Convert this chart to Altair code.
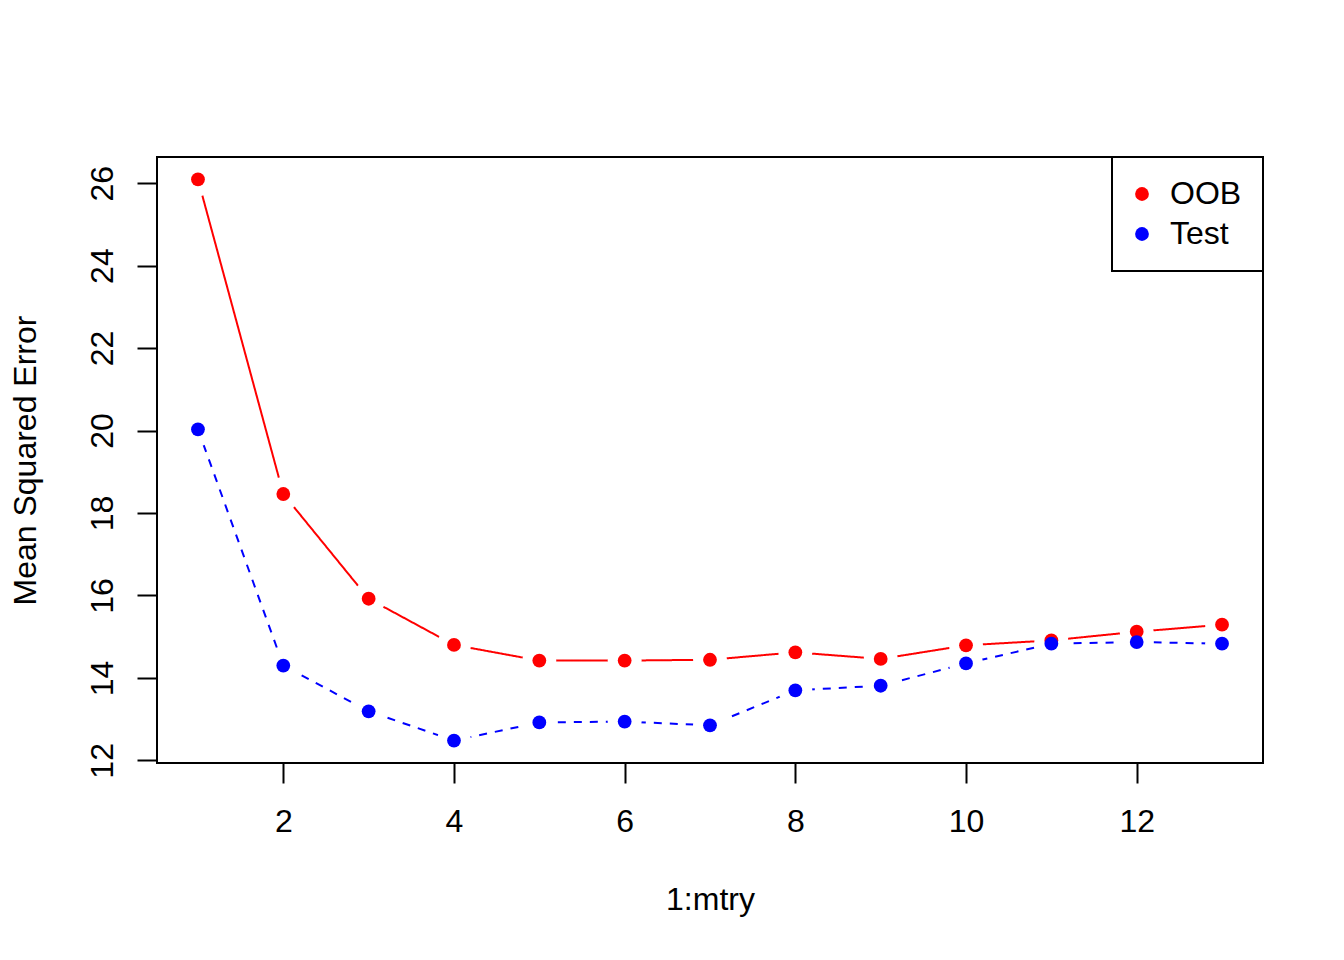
import altair as alt
import pandas as pd

mtry = list(range(1, 14))
oob = [26.09, 18.46, 15.92, 14.80, 14.42, 14.42, 14.44, 14.62, 14.46, 14.79, 14.91, 15.12, 15.29]
test = [20.03, 14.30, 13.19, 12.48, 12.92, 12.94, 12.85, 13.70, 13.81, 14.35, 14.83, 14.87, 14.83]
series = ["OOB", "Test"]
colors = ["#ff0000", "#0000ff"]
x_ticks = [2, 4, 6, 8, 10, 12]
y_ticks = [12, 14, 16, 18, 20, 22, 24, 26]

df = pd.DataFrame({
    "mtry": mtry * 2,
    "mse": oob + test,
    "series": ["OOB"] * len(mtry) + ["Test"] * len(mtry),
})

FONT = "Liberation Sans"

x = alt.X("mtry:Q",
          scale=alt.Scale(domain=[0.52, 13.48], nice=False, zero=False),
          axis=alt.Axis(values=x_ticks, title="1:mtry", grid=False, domain=False,
                        tickSize=20, tickWidth=2, tickColor="black",
                        labelFont=FONT, labelFontSize=32, labelColor="black",
                        labelPadding=23, labelFlush=False,
                        titleFont=FONT, titleFontSize=32, titleFontWeight="normal",
                        titleColor="black", titleX=553, titleY=146,
                        titleBaseline="alphabetic", titleAlign="center"))
y = alt.Y("mse:Q",
          scale=alt.Scale(domain=[11.936, 26.634], nice=False, zero=False),
          axis=alt.Axis(values=y_ticks, title="Mean Squared Error", grid=False, domain=False,
                        tickSize=20, tickWidth=2, tickColor="black",
                        labelFont=FONT, labelFontSize=32, labelColor="black",
                        labelAngle=270, labelAlign="center", labelBaseline="alphabetic",
                        labelPadding=25, labelFlush=False,
                        titleFont=FONT, titleFontSize=32, titleFontWeight="normal",
                        titleColor="black", titleAngle=270, titleX=-122, titleY=303,
                        titleBaseline="alphabetic", titleAlign="center"))

color_scale = alt.Scale(domain=series, range=colors)

lines = alt.Chart(df).mark_line(strokeWidth=2).encode(
    x=x, y=y,
    color=alt.Color("series:N", scale=color_scale, legend=None),
    strokeDash=alt.StrokeDash("series:N",
                              scale=alt.Scale(domain=series, range=[[1, 0], [8, 8]]),
                              legend=None),
)

halos = alt.Chart(df).mark_point(filled=True, size=1150, opacity=1, shape="circle").encode(
    x=x, y=y,
    color=alt.value("white"),
)

points = alt.Chart(df).mark_point(filled=True, size=190, opacity=1, shape="circle").encode(
    x=x, y=y,
    color=alt.Color("series:N", scale=color_scale,
                    legend=alt.Legend(title=None, orient="top-right", offset=0,
                                      strokeColor="black", padding=21,
                                      fillColor="white",
                                      symbolType="circle", symbolSize=190,
                                      symbolStrokeWidth=0, symbolOffset=-7,
                                      labelFont=FONT, labelFontSize=32, labelColor="black",
                                      labelOffset=12, rowPadding=8)),
)

chart = alt.layer(lines, halos, points).resolve_legend(
    color="independent", strokeDash="independent"
).properties(
    width=1106, height=606,
    background="white",
    autosize=alt.AutoSizeParams(type="none"),
    padding={"left": 149, "top": 149, "right": 60, "bottom": 180},
).configure_view(
    stroke="black", strokeWidth=2
).configure_legend(
    strokeWidth=2
)

chart.save("out.html", embed_options={"renderer": "svg", "actions": False})
